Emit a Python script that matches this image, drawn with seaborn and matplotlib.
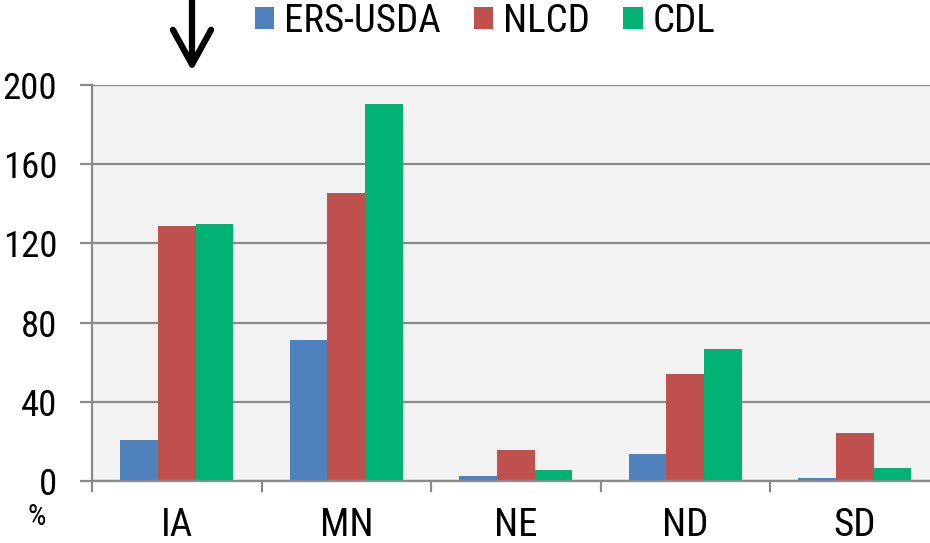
import matplotlib
matplotlib.use("Agg")
import matplotlib.pyplot as plt
import seaborn as sns
import pandas as pd
from matplotlib.ticker import FixedLocator
from matplotlib import font_manager

states = ["IA", "MN", "NE", "ND", "SD"]
series = ["ERS-USDA", "NLCD", "CDL"]
ers_usda = [20.5, 71.3, 2.5, 13.6, 1.4]
nlcd = [128.7, 145.6, 15.7, 53.9, 24.1]
cdl = [129.7, 190.2, 5.5, 66.5, 6.7]
colors = ["#4F81BD", "#C0504D", "#00B274"]
yticks = [0, 40, 80, 120, 160, 200]

df = pd.DataFrame({
    "state": states * 3,
    "source": [s for s in series for _ in states],
    "value": ers_usda + nlcd + cdl,
})

sns.set_theme(style="white")
available = {f.name for f in font_manager.fontManager.ttflist}
cands = ["Liberation Sans Narrow", "Roboto Condensed", "DejaVu Sans Condensed",
         "Open Sans Condensed", "Liberation Sans"]
FONT = [c for c in cands if c in available] + ["DejaVu Sans"]
plt.rcParams["font.family"] = FONT

W, H = 930, 543
fig = plt.figure(figsize=(W / 100, H / 100), dpi=100)
ax = fig.add_axes([92 / W, 62 / H, 847.5 / W, 396 / H])
ax.set_facecolor("#F2F2F2")

sns.barplot(data=df, x="state", y="value", hue="source", order=states,
            hue_order=series, palette=colors, saturation=1, width=0.664,
            edgecolor="none", ax=ax, legend=True)

ax.set_xlim(-0.5, 4.5)
ax.set_ylim(0, 200)
ax.set_yticks(yticks)
ax.set_yticklabels([str(v) for v in yticks])
ax.yaxis.grid(True, color="#8A8A8A", linewidth=1.6)
ax.set_axisbelow(True)
ax.set_xlabel("")
ax.set_ylabel("")

for s in ["top", "right"]:
    ax.spines[s].set_visible(False)
for s in ["left", "bottom"]:
    ax.spines[s].set_color("#8A8A8A")
    ax.spines[s].set_linewidth(1.6)

ax.tick_params(axis="y", which="major", length=9, width=1.6, color="#8A8A8A",
               pad=16, labelsize=26.5, left=True, direction="out")
ax.tick_params(axis="x", which="major", length=0, pad=19, labelsize=28)
ax.xaxis.set_minor_locator(FixedLocator([-0.5, 0.5, 1.5, 2.5, 3.5, 4.5]))
ax.tick_params(axis="x", which="minor", length=8, width=1.6, color="#8A8A8A",
               bottom=True, direction="out")
for lab in ax.get_xticklabels() + ax.get_yticklabels():
    lab.set_color("black")

# legend on top
handles, labels = ax.get_legend_handles_labels()
ax.legend_.remove()
leg = fig.legend(handles, labels, loc="center", bbox_to_anchor=(485 / W, 1 - 21 / H),
                 ncol=3, frameon=False, fontsize=28, handlelength=0.5,
                 handleheight=0.5, handletextpad=0.25, columnspacing=0.85,
                 borderaxespad=0)
for t in leg.get_texts():
    t.set_color("black")

# "%" unit label
fig.text(37 / W, 1 - 517 / H, "%", fontsize=21, ha="center", va="center",
         color="black")

# arrow over IA
ax.annotate("", xy=(192 / W, 1 - 71 / H), xytext=(192 / W, 1.01),
            xycoords="figure fraction", textcoords="figure fraction",
            arrowprops=dict(arrowstyle="->,head_length=1.0,head_width=0.55",
                            lw=4.5, color="black", mutation_scale=25,
                            shrinkA=0, shrinkB=0),
            annotation_clip=False)

fig.savefig("out.png", dpi=100)
